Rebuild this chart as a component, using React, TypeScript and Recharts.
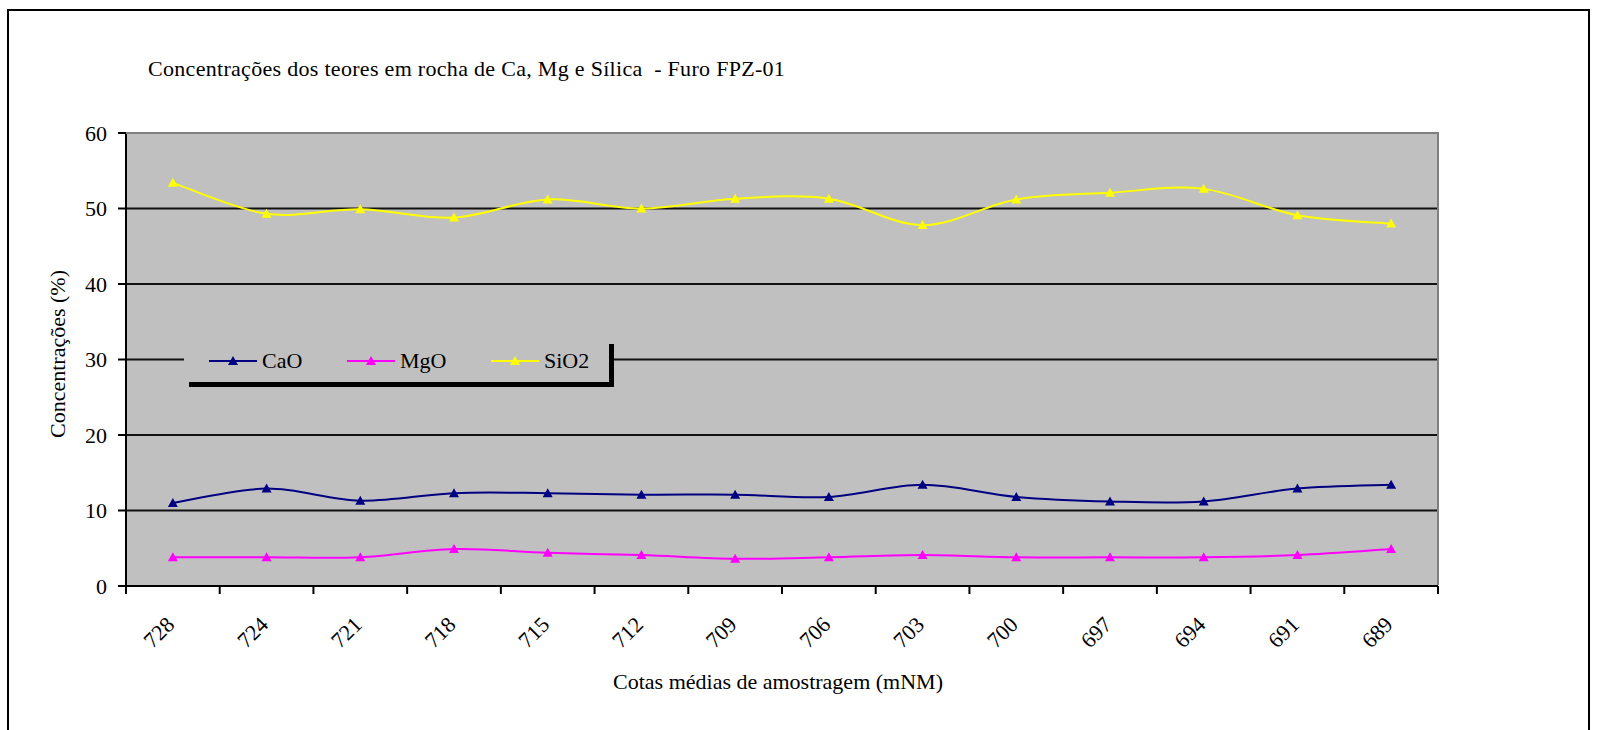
import React from "react";
import { LineChart, Line, XAxis, YAxis, CartesianGrid } from "recharts";

const cotas = ["728", "724", "721", "718", "715", "712", "709", "706", "703", "700", "697", "694", "691", "689"];
const cao = [11.0, 12.9, 11.3, 12.3, 12.3, 12.1, 12.1, 11.8, 13.4, 11.8, 11.2, 11.2, 12.9, 13.4];
const mgo = [3.8, 3.8, 3.8, 4.9, 4.4, 4.1, 3.6, 3.8, 4.1, 3.8, 3.8, 3.8, 4.1, 4.9];
const sio2 = [53.4, 49.3, 49.9, 48.8, 51.2, 50.0, 51.3, 51.3, 47.8, 51.2, 52.1, 52.6, 49.1, 48.0];
const yTicks = [0, 10, 20, 30, 40, 50, 60];

const series = [
  { key: "CaO", color: "#000080" },
  { key: "MgO", color: "#FF00FF" },
  { key: "SiO2", color: "#FFFF00" },
];

const data = cotas.map((c, i) => ({ cota: c, CaO: cao[i], MgO: mgo[i], SiO2: sio2[i] }));

const W = 1598;
const H = 730;
const PLOT_LEFT = 126;
const PLOT_TOP = 133;
const PLOT_RIGHT = 1438;
const PLOT_BOTTOM = 586;
const HALF = (PLOT_RIGHT - PLOT_LEFT) / cotas.length / 2;
const FONT = '"Liberation Serif", "Times New Roman", serif';

// excel-ish smoothed line (catmull-rom style bezier)
const smooth = (context: any) => {
  let pts: number[][] = [];
  return {
    areaStart() {},
    areaEnd() {},
    lineStart() {
      pts = [];
    },
    point(x: number, y: number) {
      pts.push([+x, +y]);
    },
    lineEnd() {
      if (!pts.length) return;
      context.moveTo(pts[0][0], pts[0][1]);
      for (let i = 0; i < pts.length - 1; i++) {
        const p0 = pts[i - 1] || pts[i];
        const p1 = pts[i];
        const p2 = pts[i + 1];
        const p3 = pts[i + 2] || pts[i + 1];
        context.bezierCurveTo(
          p1[0] + (p2[0] - p0[0]) / 6,
          p1[1] + (p2[1] - p0[1]) / 6,
          p2[0] - (p3[0] - p1[0]) / 6,
          p2[1] - (p3[1] - p1[1]) / 6,
          p2[0],
          p2[1]
        );
      }
    },
  };
};

const triPath = (cx: number, cy: number) => `M${cx},${cy - 5}L${cx - 5},${cy + 4}L${cx + 5},${cy + 4}Z`;

const makeDot = (color: string) => (p: any) => (
  <path key={`d-${p.index}`} d={triPath(p.cx, p.cy)} fill={color} stroke="none" />
);

const CotaTick = (props: any) => {
  const { x, payload, index } = props;
  const tx = x + 3;
  const ty = PLOT_BOTTOM + 40;
  return (
    <g>
      <line x1={x - HALF} x2={x - HALF} y1={PLOT_BOTTOM} y2={PLOT_BOTTOM + 8} stroke="#000" strokeWidth={2} />
      {index === cotas.length - 1 && (
        <line x1={x + HALF} x2={x + HALF} y1={PLOT_BOTTOM} y2={PLOT_BOTTOM + 8} stroke="#000" strokeWidth={2} />
      )}
      <text
        x={tx}
        y={ty}
        textAnchor="end"
        transform={`rotate(-45, ${tx}, ${ty})`}
        fontSize={22}
        fontFamily={FONT}
        fill="#000"
      >
        {payload.value}
      </text>
    </g>
  );
};

export default function App() {
  return (
    <div style={{ position: "absolute", left: 0, top: 0, width: W, height: H, overflow: "hidden", background: "#fff", fontFamily: FONT }}>
      <div style={{ position: "absolute", left: 7, top: 9, width: 1583, height: 740, border: "2px solid #000", boxSizing: "border-box" }} />
      <LineChart width={W} height={H} data={data} margin={{ top: PLOT_TOP, right: W - PLOT_RIGHT, bottom: 84, left: 66 }}>
        <CartesianGrid vertical={false} fill="#C0C0C0" stroke="#111" strokeWidth={2} />
        <XAxis
          dataKey="cota"
          padding={{ left: HALF, right: HALF }}
          height={60}
          interval={0}
          axisLine={{ stroke: "#000", strokeWidth: 2 }}
          tickLine={false}
          tick={<CotaTick />}
        />
        <YAxis
          width={60}
          domain={[0, 60]}
          ticks={yTicks}
          interval={0}
          tickSize={8}
          tickMargin={11}
          axisLine={{ stroke: "#000", strokeWidth: 2 }}
          tickLine={{ stroke: "#000", strokeWidth: 2 }}
          tick={{ fill: "#000", fontSize: 22, fontFamily: FONT }}
        />
        {series.map((s) => (
          <Line
            key={s.key}
            dataKey={s.key}
            type={smooth as any}
            stroke={s.color}
            strokeWidth={2}
            dot={makeDot(s.color)}
            activeDot={false}
            isAnimationActive={false}
          />
        ))}
      </LineChart>
      {/* plot frame, grey on top and right */}
      <div
        style={{
          position: "absolute",
          left: PLOT_LEFT,
          top: PLOT_TOP - 1,
          width: PLOT_RIGHT - PLOT_LEFT + 1,
          height: PLOT_BOTTOM - PLOT_TOP,
          borderTop: "2px solid #808080",
          borderRight: "2px solid #808080",
          boxSizing: "border-box",
          pointerEvents: "none",
        }}
      />
      <div style={{ position: "absolute", left: 148, top: 55, height: 28, lineHeight: "28px", fontSize: 22, letterSpacing: "0.3px", whiteSpace: "pre", color: "#000" }}>
        {"Concentrações dos teores em rocha de Ca, Mg e Sílica  - Furo FPZ-01"}
      </div>
      <div style={{ position: "absolute", left: 578, width: 400, top: 669, height: 26, lineHeight: "26px", fontSize: 22, textAlign: "center", color: "#000" }}>
        Cotas médias de amostragem (mNM)
      </div>
      <div
        style={{
          position: "absolute",
          left: 58 - 150,
          top: 354 - 13,
          width: 300,
          height: 26,
          lineHeight: "26px",
          fontSize: 22,
          textAlign: "center",
          transform: "rotate(-90deg)",
          color: "#000",
        }}
      >
        Concentrações (%)
      </div>
      {/* legend */}
      <div style={{ position: "absolute", left: 184, top: 339, width: 425, height: 43, background: "#C0C0C0", boxShadow: "5px 5px 0 #000" }}>
        {series.map((s, i) => (
          <div key={s.key} style={{ position: "absolute", left: [25, 163, 307][i], top: 0, height: 43, display: "flex", alignItems: "center" }}>
            <svg width={48} height={12} style={{ display: "block" }}>
              <line x1={0} x2={48} y1={6} y2={6} stroke={s.color} strokeWidth={2} />
              <path d={triPath(24, 6)} fill={s.color} />
            </svg>
            <span style={{ marginLeft: 5, fontSize: 22, color: "#000" }}>{s.key}</span>
          </div>
        ))}
      </div>
    </div>
  );
}
